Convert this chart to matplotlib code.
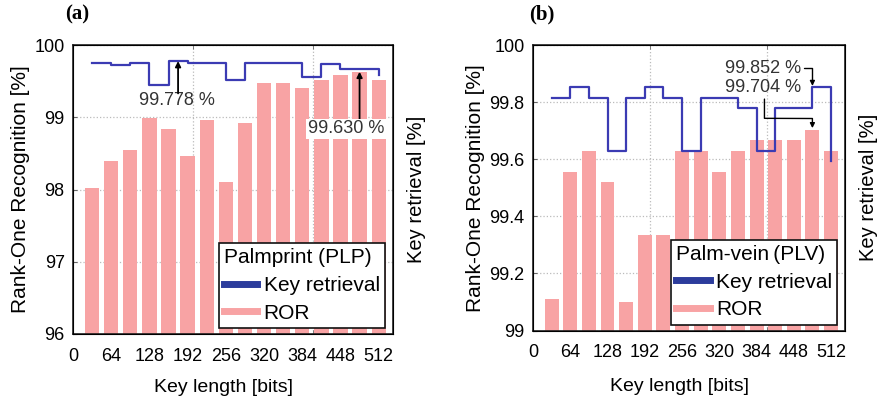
import matplotlib
matplotlib.use('Agg')
import matplotlib.pyplot as plt
from matplotlib.lines import Line2D

plt.rcParams['font.family'] = ['Liberation Sans', 'Noto Sans CJK JP', 'DejaVu Sans']

# ---------------- data ----------------
key_lengths = [32, 64, 96, 128, 160, 192, 224, 256, 288, 320, 352, 384, 416, 448, 480, 512]
tick_values = [0, 64, 128, 192, 256, 320, 384, 448, 512]
tick_labels = ['0', '64', '128', '192', '256', '320', '384', '448', '512']

ror_plp = [98.02, 98.40, 98.55, 98.99, 98.84, 98.46, 98.96, 98.10,
           98.92, 99.48, 99.48, 99.40, 99.52, 99.59, 99.63, 99.52]
key_plp = [99.75, 99.72, 99.75, 99.45, 99.778, 99.75, 99.75, 99.52,
           99.75, 99.75, 99.75, 99.56, 99.74, 99.67, 99.67, 99.58]

ror_plv = [99.111, 99.556, 99.630, 99.519, 99.100, 99.333, 99.333, 99.630,
           99.630, 99.556, 99.630, 99.667, 99.667, 99.667, 99.704, 99.630]
key_plv = [99.815, 99.852, 99.815, 99.630, 99.815, 99.852, 99.815, 99.630,
           99.815, 99.815, 99.778, 99.630, 99.778, 99.778, 99.852, 99.593]

ylim_plp = (96, 100)
yticks_plp = [96, 97, 98, 99, 100]
ylim_plv = (99, 100)
yticks_plv = [99, 99.2, 99.4, 99.6, 99.8, 100]
ytl_plv = ['99', '99.2', '99.4', '99.6', '99.8', '100']

BAR_C = '#f8a3a4'
LINE_C = '#3b3bb3'
LEG_LINE_C = '#2c3c9c'
TXT_C = '#333333'
XMAX = 536

fig = plt.figure(figsize=(8.79, 4.01), dpi=100)
ax_a = fig.add_axes([73/879, (401-334)/401, 320/879, 289/401])
ax_b = fig.add_axes([533/879, (401-330.5)/401, 312/879, 285.5/401])


def setup(ax, ror, key, ylim, yticks, ytl, legtitle, lab_y):
    ax.bar(key_lengths, [r - ylim[0] for r in ror], bottom=ylim[0], width=24,
           color=BAR_C, zorder=2, linewidth=0)
    ax.step(key_lengths, key, where='post', color=LINE_C, lw=1.6, zorder=3)
    ax.set_xlim(0, XMAX)
    ax.set_ylim(*ylim)
    ax.set_xticks(tick_values)
    ax.set_xticklabels(tick_labels, fontsize=13)
    ax.set_xticks([0.375 * XMAX, 0.75 * XMAX], minor=True)
    ax.tick_params(axis='x', which='major', length=0, pad=10)
    ax.tick_params(axis='x', which='minor', direction='in', length=3,
                   top=True, bottom=True, color='#666666')
    ax.set_yticks(yticks)
    ax.set_yticklabels(ytl, fontsize=13)
    ax.tick_params(axis='y', direction='in', length=3, right=True, pad=6,
                   color='#666666')
    ax.grid(which='minor', axis='x', linestyle=':', color='#bbbbbb', lw=0.9, zorder=0)
    ax.grid(which='major', axis='y', linestyle=':', color='#bbbbbb', lw=0.9, zorder=0)
    ax.set_axisbelow(True)
    for s in ax.spines.values():
        s.set_linewidth(1.2)
        s.set_color('#222222')
    ax.set_ylabel('Rank-One Recognition [%]', fontsize=15, labelpad=3)
    ax.set_xlabel('Key length [bits]', fontsize=14)
    ax.xaxis.set_label_coords(0.47, lab_y)
    ax2 = ax.twinx()
    ax2.set_ylim(*ylim)
    ax2.set_yticks([])
    ax2.set_ylabel('Key retrieval [%]', fontsize=14.5, labelpad=10)
    handles = [Line2D([0], [0], color=LEG_LINE_C, lw=5),
               Line2D([0], [0], color=BAR_C, lw=5)]
    leg = ax2.legend(handles, ['Key retrieval', 'ROR'], title=legtitle,
                     loc='lower right', bbox_to_anchor=(0.975, 0.021),
                     fontsize=15, title_fontsize=15, frameon=True, fancybox=False,
                     edgecolor='#111111', framealpha=1, handlelength=1.6,
                     handletextpad=0.3, borderpad=0.25, labelspacing=0.42,
                     alignment='left', borderaxespad=0)
    leg.get_frame().set_linewidth(1.2)
    return ax2


ax2a = setup(ax_a, ror_plp, key_plp, ylim_plp, yticks_plp, [str(v) for v in yticks_plp],
             'Palmprint (PLP)', -0.155)
ax2b = setup(ax_b, ror_plv, key_plv, ylim_plv, yticks_plv, ytl_plv,
             'Palm-vein\u2009(PLV)', -0.165)

arrow = dict(arrowstyle='-|>', color='black', lw=1.3, mutation_scale=8,
             shrinkA=0, shrinkB=0)
# panel (a) annotations: label text plus vertical arrow
ax_a.text(174, 99.23, '99.778 %', ha='center', va='center', fontsize=13,
          color=TXT_C, zorder=5)
ax_a.annotate('', xy=(176, key_plp[4]), xytext=(176, 99.33),
              arrowprops=arrow, zorder=5)
ax_a.text(458, 98.84, '99.630 %', ha='center', va='center', fontsize=13,
          color=TXT_C, zorder=6,
          bbox=dict(boxstyle='square,pad=0.1', fc='white', ec='none'))
ax_a.annotate('', xy=(key_lengths[14], ror_plp[14]), xytext=(key_lengths[14], 98.95),
              arrowprops=arrow, zorder=5)

arrow_b1 = dict(arrowstyle='-|>', color='black', lw=1.0, mutation_scale=7,
                shrinkA=0, shrinkB=1, connectionstyle='angle,angleA=0,angleB=90,rad=0')
arrow_b2 = dict(arrowstyle='-|>', color='black', lw=1.0, mutation_scale=7,
                shrinkA=0, shrinkB=1, relpos=(0.52, 0.0),
                connectionstyle='arc,angleA=-90,armA=22,angleB=90,armB=11,rad=0')
ax_b.annotate('99.852 %', xy=(key_lengths[14], key_plv[14]), xytext=(395, 99.918),
              ha='center', va='center', fontsize=13, color=TXT_C,
              arrowprops=arrow_b1, zorder=5)
ax_b.annotate('99.704 %', xy=(key_lengths[14], ror_plv[14]), xytext=(395, 99.850),
              ha='center', va='center', fontsize=13, color=TXT_C,
              arrowprops=arrow_b2, zorder=5)

fig.text(77/879, 1 - 14/401, '(a)', fontsize=15, fontweight='bold',
         family='Liberation Serif', ha='center', va='center')
fig.text(542/879, 1 - 14/401, '(b)', fontsize=15, fontweight='bold',
         family='Liberation Serif', ha='center', va='center')

fig.savefig('out.png', dpi=100)
